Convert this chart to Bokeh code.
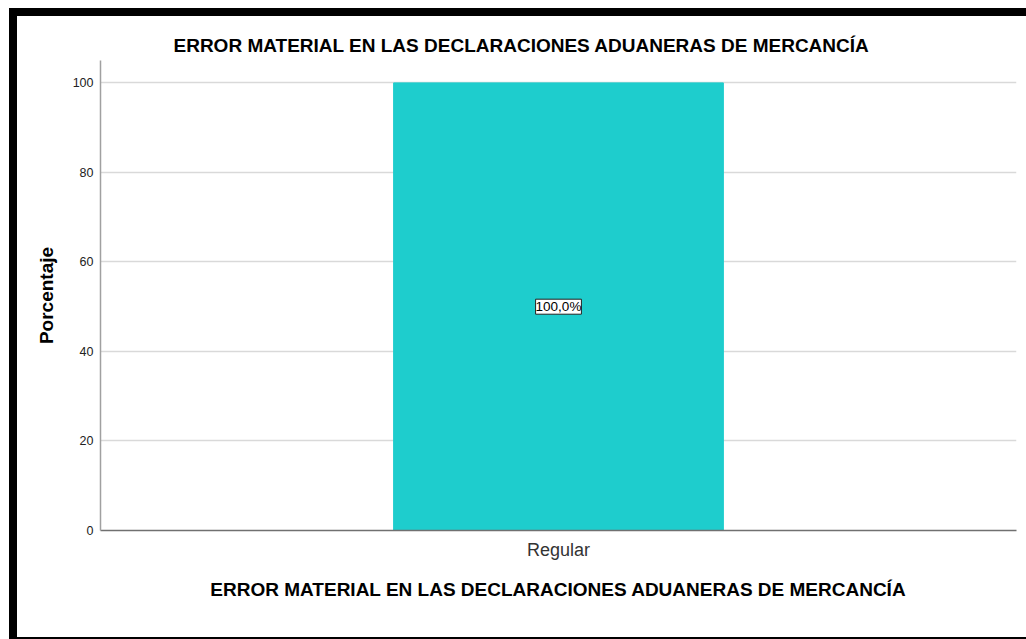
from bokeh.plotting import figure
from bokeh.models import ColumnDataSource, FactorRange, Range1d, FixedTicker, LabelSet, Title
from bokeh.core.properties import value
from bokeh.embed import file_html
from bokeh.resources import INLINE

# Data
categories = ["Regular"]
percentages = [100.0]
y_ticks = [0, 20, 40, 60, 80, 100]
chart_title = "ERROR MATERIAL EN LAS DECLARACIONES ADUANERAS DE MERCANCÍA"
x_title = "ERROR MATERIAL EN LAS DECLARACIONES ADUANERAS DE MERCANCÍA"
y_title = "Porcentaje"

FONT = "Liberation Sans"
BAR_COLOR = "#1ECDCD"

labels = [f"{v:.1f}".replace(".", ",") + "%" for v in percentages]
source = ColumnDataSource(dict(
    cat=categories,
    pct=percentages,
    mid=[v / 2 for v in percentages],
    txt=labels,
))

p = figure(
    x_range=FactorRange(*categories),
    y_range=Range1d(0, 105),
    width=1009, height=621,
    output_backend="svg", toolbar_location=None,
    min_border_left=83, min_border_right=18,
    min_border_top=44, min_border_bottom=117,
)
# black page frame on the left, top and bottom
p.styles = {
    "box-sizing": "content-box",
    "overflow": "hidden",
    "border-left": "8px solid black",
    "border-top": "8px solid black",
    "border-bottom": "2px solid black",
    "margin-left": "9px",
    "margin-top": "8px",
}
p.outline_line_color = None
p.background_fill_color = "white"
p.border_fill_color = "white"

p.vbar(x="cat", top="pct", width=0.36, source=source,
       fill_color=BAR_COLOR, line_color=BAR_COLOR)

p.add_layout(LabelSet(
    x="cat", y="mid", text="txt", source=source,
    text_align="center", text_baseline="middle",
    text_font=value(FONT), text_font_size=value("13.5px"), text_color="black",
    background_fill_color="white", border_line_color="#222222",
    border_line_width=1,
))

# Title
p.title = Title(text=chart_title, align="left", offset=73,
                text_font=FONT, text_font_size="19px",
                text_font_style="bold", text_color="black", standoff=9)

# Axes
p.xaxis.axis_label = x_title
p.xaxis.axis_label_text_font = FONT
p.xaxis.axis_label_text_font_size = "19px"
p.xaxis.axis_label_text_font_style = "bold"
p.xaxis.axis_label_text_color = "black"
p.xaxis.axis_label_standoff = 16
p.xaxis.major_label_text_font = FONT
p.xaxis.major_label_text_font_size = "18px"
p.xaxis.major_label_text_color = "#333333"
p.xaxis.major_label_standoff = 3
p.xaxis.axis_line_color = "#707070"
p.xaxis.axis_line_width = 1.5
p.xaxis.major_tick_line_color = None
p.xaxis.minor_tick_line_color = None

p.yaxis.ticker = FixedTicker(ticks=y_ticks)
p.yaxis.axis_label = y_title
p.yaxis.axis_label_text_font = FONT
p.yaxis.axis_label_text_font_size = "19px"
p.yaxis.axis_label_text_font_style = "bold"
p.yaxis.axis_label_text_color = "black"
p.yaxis.axis_label_standoff = 13
p.yaxis.major_label_text_font = FONT
p.yaxis.major_label_text_font_size = "12.5px"
p.yaxis.major_label_text_color = "#222222"
p.yaxis.major_label_standoff = 1
p.yaxis.axis_line_color = "#a0a0a0"
p.yaxis.axis_line_width = 1.5
p.yaxis.major_tick_line_color = None
p.yaxis.minor_tick_line_color = None

p.xgrid.grid_line_color = None
p.ygrid.ticker = FixedTicker(ticks=y_ticks[1:])
p.ygrid.grid_line_color = "#d9d9d9"
p.ygrid.grid_line_width = 1.5

open("out.html", "w").write(file_html(p, INLINE))
